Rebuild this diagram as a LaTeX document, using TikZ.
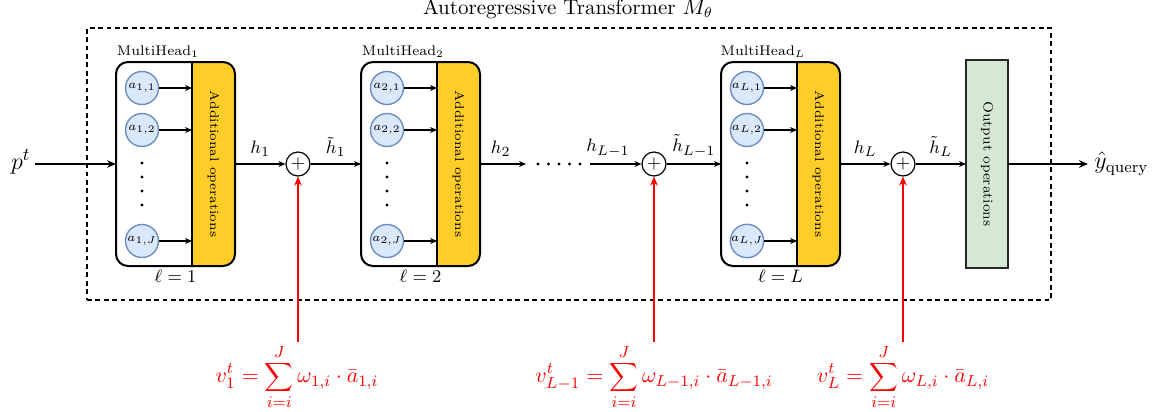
\documentclass[tikz,border=0pt]{standalone}
\usetikzlibrary{arrows.meta,calc,backgrounds}
\definecolor{opyellow}{HTML}{FFCD28}
\definecolor{headfill}{HTML}{DAE8FC}
\definecolor{headdraw}{HTML}{6C8EBF}
\definecolor{outfill}{HTML}{D5E8D4}
\begin{document}
\begin{tikzpicture}[x=0.5pt,y=-0.5pt,
  headnode/.style={circle, draw=headdraw, fill=headfill, line width=0.7pt, minimum size=16.5pt, inner sep=0pt, font=\fontsize{6.5}{7}\selectfont},
  blockbox/.style={draw, line width=1pt, rounded corners=6pt, minimum width=59.5pt, minimum height=102pt, inner sep=0pt, outer sep=0pt},
  yelarea/.style={minimum width=21.5pt, minimum height=102pt, inner sep=0pt, outer sep=0pt},
  opstext/.style={rotate=-90, font=\fontsize{6.3}{7}\selectfont},
  sumnode/.style={circle, draw, line width=0.6pt, minimum size=12pt, inner sep=0pt, font=\fontsize{9}{9}\selectfont},
  conn/.style={line width=0.6pt, -{Stealth[length=3.5pt,width=3pt]}},
  bigconn/.style={line width=0.9pt, -{Stealth[length=4.5pt,width=3.8pt]}},
  redarrow/.style={red, line width=1pt, -{Stealth[length=4.5pt,width=3.8pt]}},
  vlabel/.style={font=\fontsize{9.5}{11}\selectfont},
  mhlabel/.style={font=\fontsize{7}{8}\selectfont, inner sep=0pt},
  formula/.style={red, font=\fontsize{11}{13}\selectfont, inner sep=1pt, anchor=north},
  frame/.style={draw, line width=0.7pt, dash pattern=on 2.4pt off 1.8pt, minimum width=482pt, minimum height=136pt, inner sep=0pt},
  outbox/.style={draw=black!85, fill=outfill, line width=0.7pt, minimum width=21pt, minimum height=104pt, inner sep=0pt, outer sep=0pt}
]
\useasboundingbox (0,0) rectangle (1156,412);

% frame and title
\node[frame] (fr) at (569,164) {};
\node[anchor=base, font=\fontsize{10.5}{12}\selectfont] (title) at (568,14) {Autoregressive Transformer $M_\theta$};

% blocks
\foreach \nm/\bx/\idx in {1/116/1, 2/361/2, L/721/L}{
  \node[blockbox] (b\nm) at (\bx+59.5,164) {};
  \node[yelarea] (y\nm) at (\bx+97.5,164) {};
  \begin{pgfonlayer}{background}
    \begin{scope}
      \clip[rounded corners=6pt] (b\nm.south west) rectangle (b\nm.north east);
      \fill[opyellow] (y\nm.south west) rectangle (y\nm.north east);
    \end{scope}
  \end{pgfonlayer}
  \draw[line width=0.8pt] (y\nm.north west) -- (y\nm.south west);
  \node[opstext] (t\nm) at (y\nm) {Additional operations};
  \node[headnode] (a\nm1) at (\bx+26,88) {$a_{\idx,1}$};
  \node[headnode] (a\nm2) at (\bx+26,130) {$a_{\idx,2}$};
  \node[headnode] (a\nm3) at (\bx+26,241) {$a_{\idx,J}$};
  \foreach \k in {1,2,3}{ \draw[conn] (a\nm\k) -- (a\nm\k -| y\nm.west); }
  \foreach \yy in {163,177,191,205}{ \fill (\bx+26,\yy) circle (0.8pt); }
  \node[mhlabel, anchor=base] (m\nm) at (\bx+42,55) {MultiHead$_{\idx}$};
  \node[vlabel, anchor=base] (l\nm) at (\bx+59.5,282) {$\ell = \idx$};
}

% sum nodes
\node[sumnode] (s1) at (298,164) {$+$};
\node[sumnode] (s2) at (654,164) {$+$};
\node[sumnode] (s3) at (903,164) {$+$};

% output box
\node[outbox] (ob) at (987,164) {};
\node[opstext, font=\fontsize{6.8}{8}\selectfont] (to) at (ob) {Output operations};

% input / output
\node[anchor=east, font=\fontsize{13}{15}\selectfont, inner sep=2pt] (p) at (35,162) {$p^t$};
\draw[bigconn] (p.east |- b1.west) -- (b1.west);
\node[anchor=west, font=\fontsize{12}{14}\selectfont, inner sep=3pt] (yq) at (1088,164) {$\hat y_{\mathrm{query}}$};
\draw[bigconn] (ob.east) -- (yq.west);

% main chain
\coordinate (d1) at (526,164);
\coordinate (d2) at (590,164);
\draw[conn] (y1.east) -- node[above, vlabel] {$h_1$} (s1);
\draw[conn] (s1) -- node[above, vlabel] {$\tilde h_1$} (b2.west);
\draw[conn] (y2.east) -- node[above, vlabel, pos=0.45] {$h_2$} (d1);
\foreach \xx in {538,548.5,559,569.5,580}{ \fill (\xx,164) circle (0.8pt); }
\draw[conn] (d2) -- node[above, vlabel, pos=0.35] {$h_{L-1}$} (s2);
\draw[conn] (s2) -- node[above, vlabel] {$\tilde h_{L-1}$} (bL.west);
\draw[conn] (yL.east) -- node[above, vlabel] {$h_L$} (s3);
\draw[conn] (s3) -- node[above, vlabel] {$\tilde h_L$} (ob.west);

% red inputs
\node[formula] (f1) at (297,342) {$\displaystyle v_1^t = \sum_{i=i}^{J} \omega_{1,i}\cdot \bar a_{1,i}$};
\node[formula] (f2) at (654,342) {$\displaystyle v_{L-1}^t = \sum_{i=i}^{J} \omega_{L-1,i}\cdot \bar a_{L-1,i}$};
\node[formula] (f3) at (903,342) {$\displaystyle v_L^t = \sum_{i=i}^{J} \omega_{L,i}\cdot \bar a_{L,i}$};
\draw[redarrow] (s1 |- f1.north) -- (s1);
\draw[redarrow] (s2 |- f2.north) -- (s2);
\draw[redarrow] (s3 |- f3.north) -- (s3);
\end{tikzpicture}
\end{document}
